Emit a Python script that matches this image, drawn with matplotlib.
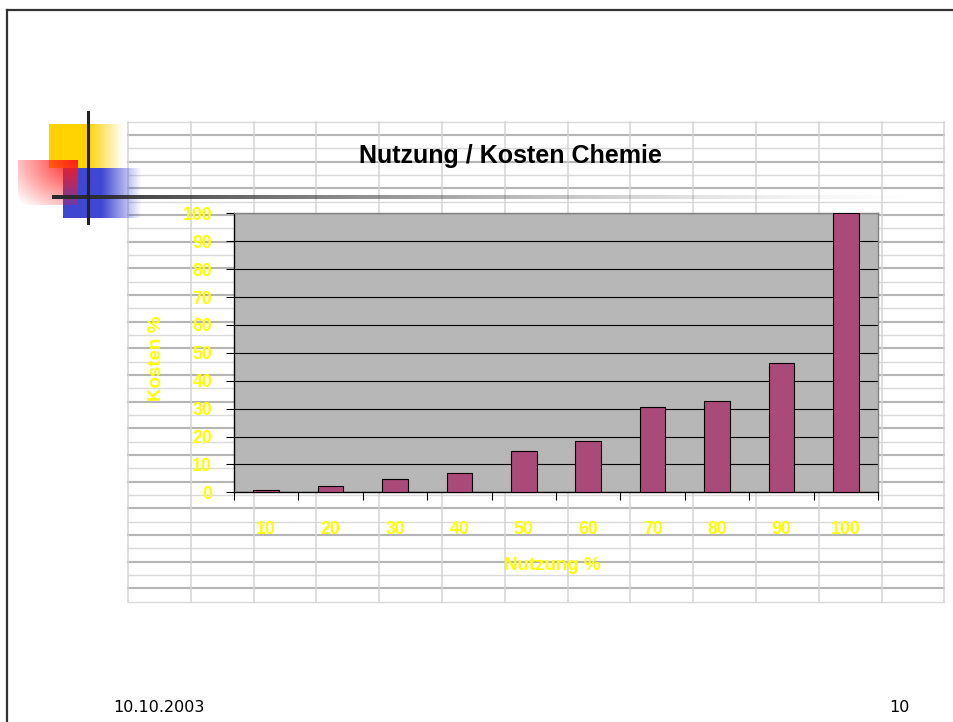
import numpy as np
import matplotlib
matplotlib.use("Agg")
import matplotlib.pyplot as plt
from matplotlib.colors import to_rgb

plt.rcParams['font.family'] = ['Liberation Sans', 'DejaVu Sans']

# chart data
nutzung = ["10", "20", "30", "40", "50", "60", "70", "80", "90", "100"]
kosten = [0.8, 2.2, 4.7, 6.9, 14.8, 18.4, 30.5, 32.6, 46.2, 100]
y_ticks = [0, 10, 20, 30, 40, 50, 60, 70, 80, 90, 100]

W, H = 954, 722
YELLOW = "#ffff00"


def gradient(ax, x0, x1, y0, y1, color, alpha_fn, z):
    xs = np.linspace(0, 1, 120)
    ys = np.linspace(0, 1, 80)
    X, Y = np.meshgrid(xs, ys)
    rgba = np.zeros((len(ys), len(xs), 4))
    rgba[..., :3] = to_rgb(color)
    rgba[..., 3] = np.clip(alpha_fn(X, Y), 0, 1)
    ax.imshow(rgba, extent=(x0, x1, y1, y0), origin="upper", aspect="auto",
              interpolation="bilinear", zorder=z)


fig = plt.figure(figsize=(W / 100, H / 100), dpi=100)

# slide background in pixel coordinates
bg = fig.add_axes([0, 0, 1, 1])
bg.axis("off")

# slide frame
bg.plot([7.5, W], [9.5, 9.5], color="#333333", lw=1.6, zorder=1)
bg.plot([7.5, 7.5], [9.5, H], color="#333333", lw=1.6, zorder=1)

# spreadsheet cells behind the chart
col_x = 128 + 62.8 * np.arange(14)
row_y = 121.7 + 13.333 * np.arange(37)
for i, y in enumerate(row_y):
    dark = i % 2 == 1
    bg.plot([128, 944.4], [y, y], color="#b5b5b5" if dark else "#dadada",
            lw=1.5 if dark else 1.0, zorder=1)
for x in col_x:
    bg.plot([x, x], [121.7, 601.7], color="#d4d4d4", lw=1.1, zorder=1)

# corner decoration
gradient(bg, 49, 124, 124, 168, "#ffd200",
         lambda X, Y: np.where(X < 0.52, 1.0, 1 - (X - 0.52) / 0.48), 2)
gradient(bg, 63, 142, 168, 218, "#3f47d3",
         lambda X, Y: np.where(X < 0.49, 1.0, 1 - (X - 0.49) / 0.51), 2.1)
gradient(bg, 18, 78, 160, 205, "#ff1a1a",
         lambda X, Y: 1 - np.sqrt((1 - X) ** 2 + Y ** 2) / 1.35, 2.2)
gradient(bg, 52, 930, 196, 199.5, "#2a2a2a",
         lambda X, Y: (1 - X) ** 1.5, 2.3)
bg.plot([88, 88], [112, 223], color="#222222", lw=2.2, zorder=2.4)

bg.set_xlim(0, W)
bg.set_ylim(H, 0)

bg.text(510, 163.3, "Nutzung / Kosten Chemie", ha="center", va="baseline",
        fontsize=18, fontweight="bold", color="black", zorder=3)

bg.text(113, 711.5, "10.10.2003", ha="left", va="baseline",
        family="DejaVu Sans", fontsize=11.5, color="black")
bg.text(889, 711.5, "10", ha="left", va="baseline",
        family="DejaVu Sans", fontsize=11.5, color="black")

# chart
ax = fig.add_axes([234 / W, 1 - 492.3 / H, 644 / W, 279 / H])
ax.set_facecolor("#b7b7b7")
pos = np.arange(len(nutzung))
ax.bar(pos, kosten, width=0.4, color="#a94a78", edgecolor="black", lw=0.8, zorder=3)

ax.set_xlim(-0.5, len(nutzung) - 0.5)
ax.set_ylim(0, 100)
ax.set_yticks(y_ticks)
ax.yaxis.grid(True, color="black", lw=0.8)
ax.set_axisbelow(True)

ax.set_xticks(np.arange(-0.5, len(nutzung), 1))
ax.set_xticklabels([])
ax.set_xticks(pos, minor=True)
ax.set_xticklabels(nutzung, minor=True)
ax.tick_params(axis="x", which="major", direction="out", length=5.5, width=0.8, color="black")
ax.tick_params(axis="x", which="minor", length=0, pad=20.5, labelsize=12.7, labelcolor=YELLOW)
ax.tick_params(axis="y", direction="out", length=5.8, width=0.8, pad=10,
               labelsize=12.7, labelcolor=YELLOW)
for lab in ax.get_xticklabels(minor=True) + ax.get_yticklabels():
    lab.set_fontweight("bold")

for side in ["left", "bottom"]:
    ax.spines[side].set_color("black")
    ax.spines[side].set_linewidth(1.0)
for side in ["top", "right"]:
    ax.spines[side].set_color("#808080")
    ax.spines[side].set_linewidth(1.0)

ax.text(-0.121, 0.48, "Kosten %", transform=ax.transAxes, rotation=90,
        ha="center", va="center", fontsize=13.5, fontweight="bold", color=YELLOW)
ax.text(0.494, -0.264, "Nutzung %", transform=ax.transAxes,
        ha="center", va="center", fontsize=13.5, fontweight="bold", color=YELLOW)

fig.savefig("out.png", dpi=100)
